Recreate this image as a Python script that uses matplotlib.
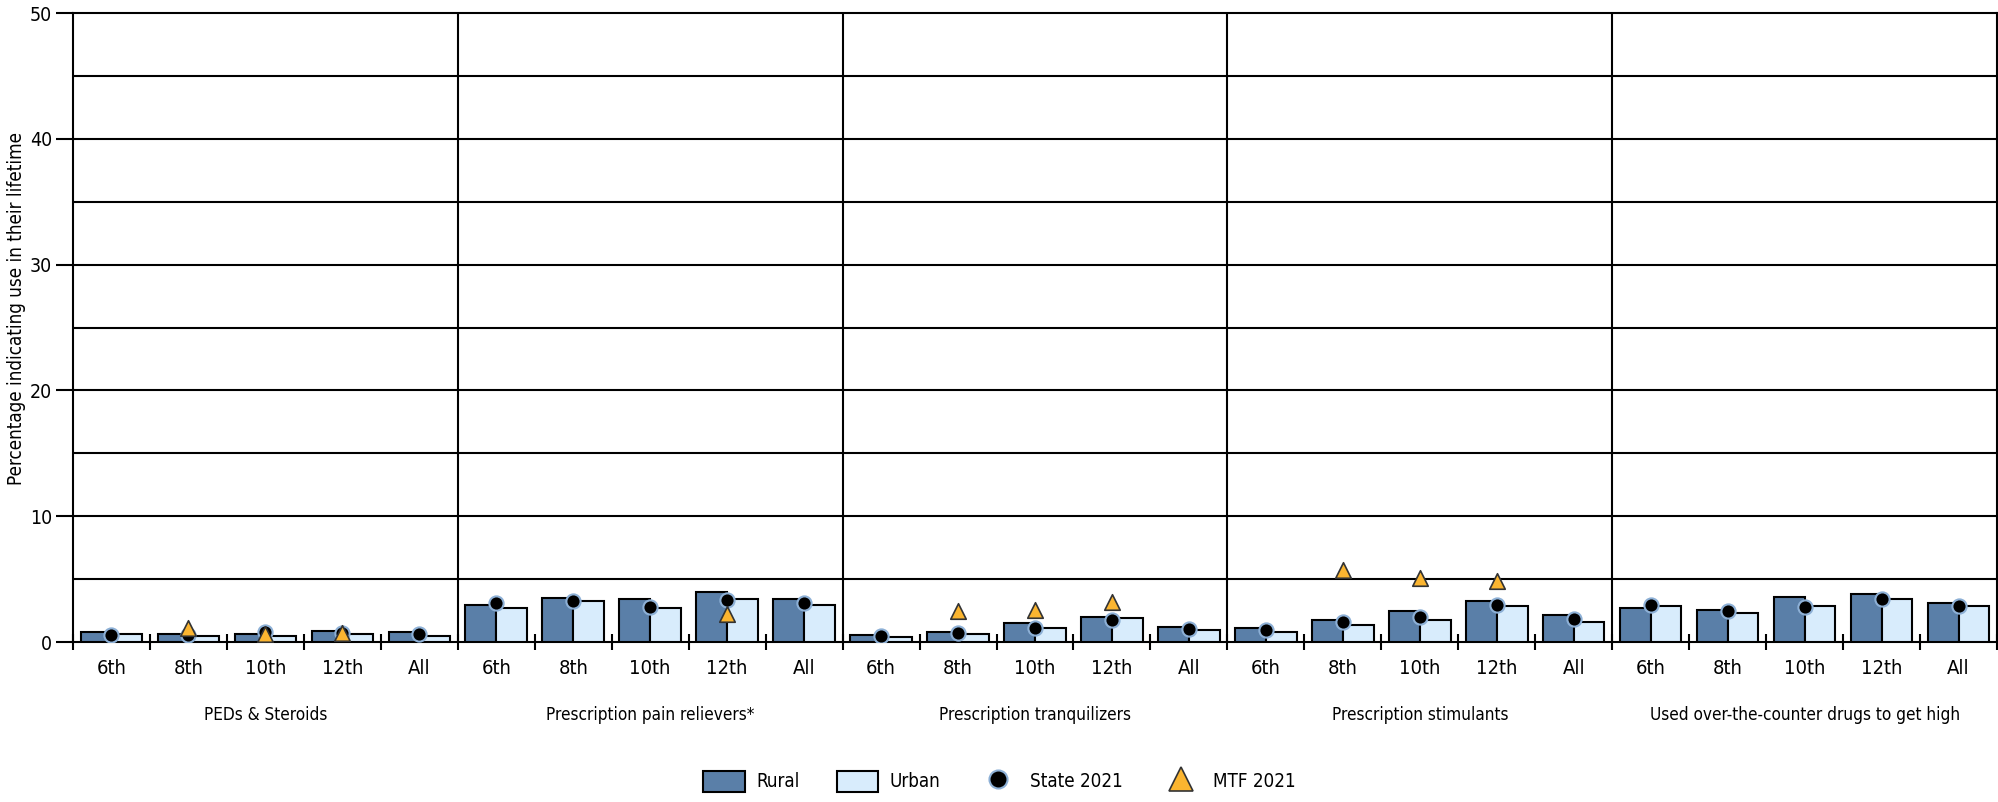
import matplotlib
matplotlib.use("Agg")
import matplotlib.pyplot as plt
from matplotlib import font_manager
from matplotlib.lines import Line2D
from matplotlib.patches import Patch
import numpy as np

# pick a narrow face if one is installed, else DejaVu with smaller text
narrow = None
for f in font_manager.fontManager.ttflist:
    nm = f.name
    if ("Condensed" in nm or "Narrow" in nm or f.stretch in ("condensed", "semi-condensed")) \
            and f.weight in ("normal", 400, "regular", "book"):
        narrow = f
        break
if narrow is not None:
    plt.rcParams['font.family'] = [narrow.name, 'DejaVu Sans']
    plt.rcParams['font.stretch'] = narrow.stretch
    k = 1.0
else:
    plt.rcParams['font.family'] = ['DejaVu Sans']
    k = 0.85

# data
drugs = ["PEDs & Steroids", "Prescription pain relievers*", "Prescription tranquilizers",
         "Prescription stimulants", "Used over-the-counter drugs to get high"]
grades = ["6th", "8th", "10th", "12th", "All"]

rural = [0.8, 0.64, 0.64, 0.9, 0.77,
         2.98, 3.51, 3.38, 3.96, 3.38,
         0.53, 0.8, 1.49, 2.02, 1.2,
         1.09, 1.76, 2.45, 3.27, 2.15,
         2.71, 2.58, 3.54, 3.8, 3.11]
urban = [0.66, 0.5, 0.5, 0.66, 0.5,
         2.69, 3.27, 2.69, 3.38, 2.95,
         0.4, 0.66, 1.09, 1.89, 0.96,
         0.77, 1.33, 1.76, 2.85, 1.62,
         2.85, 2.31, 2.85, 3.38, 2.85]
state = [0.53, 0.53, 0.8, 0.7, 0.6,
         3.1, 3.24, 2.79, 3.35, 3.1,
         0.48, 0.72, 1.12, 1.73, 1.04,
         0.98, 1.62, 1.97, 2.93, 1.86,
         2.95, 2.45, 2.79, 3.38, 2.85]
mtf = [None, 1.1, 0.6, 0.7, None,
       None, None, None, 2.2, None,
       None, 2.45, 2.53, 3.19, None,
       None, 5.72, 5.1, 4.87, None,
       None, None, None, None, None]

c_rural = "#5a7fa8"
c_urban = "#d8ecfc"
c_tri = "#fbb530"
c_circ_edge = "#8db0d6"

fig = plt.figure(figsize=(19.99, 8.02), dpi=100)
ax = fig.add_axes([0.0365, 0.1995, 0.9625, 0.784])

n = len(rural)
x = np.arange(n) + 0.5
bw = 0.4
ax.bar(x - bw/2, rural, bw, color=c_rural, edgecolor="black", linewidth=1.5, zorder=3)
ax.bar(x + bw/2, urban, bw, color=c_urban, edgecolor="black", linewidth=1.5, zorder=3)
ax.scatter(x, state, s=105, color="black", edgecolor=c_circ_edge, linewidth=1.5, zorder=5)
mx = [xi for xi, v in zip(x, mtf) if v is not None]
my = [v for v in mtf if v is not None]
ax.scatter(mx, my, s=125, marker="^", color=c_tri, edgecolor="#333333", linewidth=1.2, zorder=6)

ax.set_xlim(0, n)
ax.set_ylim(0, 50)
for y in range(5, 50, 5):
    ax.axhline(y, color="black", linewidth=1.5, zorder=1)
for b in range(5, n, 5):
    ax.axvline(b, color="black", linewidth=1.5, zorder=1)

for s in ax.spines.values():
    s.set_linewidth(1.5)
ax.set_yticks(range(0, 51, 10))
ax.tick_params(axis="y", length=12, width=1.5, labelsize=14 * k, pad=3)
ax.set_xticks(np.arange(0, n + 1))
ax.set_xticklabels([])
ax.tick_params(axis="x", length=12, width=1.5, direction="inout")
ax.set_ylabel("Percentage indicating use in their lifetime", fontsize=13.5 * k)
ax.yaxis.set_label_coords(-0.0245, 0.53)

for i in range(n):
    ax.text(x[i], -0.027, grades[i % 5], transform=ax.get_xaxis_transform(),
            ha="center", va="top", fontsize=14.5 * k)
for j, d in enumerate(drugs):
    ax.text(j * 5 + 2.5, -0.102, d, transform=ax.get_xaxis_transform(),
            ha="center", va="top", fontsize=12.3 * k)

handles = [Patch(facecolor=c_rural, edgecolor="black", linewidth=1.5),
           Patch(facecolor=c_urban, edgecolor="black", linewidth=1.5),
           Line2D([], [], marker="o", linestyle="", markersize=13, color="black",
                  markeredgecolor=c_circ_edge, markeredgewidth=1.5),
           Line2D([], [], marker="^", linestyle="", markersize=17, color=c_tri,
                  markeredgecolor="#333333", markeredgewidth=1.2)]
fig.legend(handles, ["Rural", "Urban", "State 2021", "MTF 2021"], loc="center",
           bbox_to_anchor=(0.5, 0.026), ncol=4, frameon=False, fontsize=13.5 * k,
           handlelength=2.2, handleheight=1.35, columnspacing=2.0, handletextpad=0.6)

fig.savefig("out.png", dpi=100)
